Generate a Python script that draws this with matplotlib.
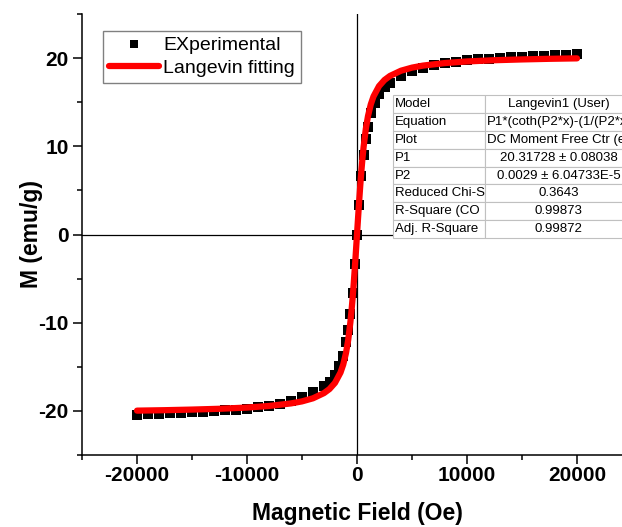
import matplotlib
matplotlib.use("Agg")
import matplotlib.pyplot as plt
from matplotlib.ticker import MultipleLocator

plt.rcParams['font.family'] = ['Liberation Sans', 'DejaVu Sans']
plt.rcParams['axes.unicode_minus'] = False

# experimental M-H points (Oe, emu/g)
field_exp = [-20000, -19000, -18000, -17000, -16000, -15000, -14000, -13000, -12000,
             -11000, -10000, -9000, -8000, -7000, -6000, -5000, -4000, -3000, -2500,
             -2000, -1600, -1300, -1000, -800, -600, -400, -200, 0, 200, 400, 600, 800,
             1000, 1300, 1600, 2000, 2500, 3000, 4000, 5000, 6000, 7000, 8000, 9000,
             10000, 11000, 12000, 13000, 14000, 15000, 16000, 17000, 18000, 19000, 20000]
m_exp = [-20.45, -20.39, -20.34, -20.29, -20.23, -20.17, -20.1, -20.03, -19.95,
         -19.85, -19.75, -19.6, -19.45, -19.2, -18.85, -18.4, -17.9, -17.2, -16.7,
         -15.9, -14.9, -13.8, -12.2, -10.8, -9.0, -6.6, -3.4, 0.0, 3.4, 6.6, 9.0, 10.8,
         12.2, 13.8, 14.9, 15.9, 16.7, 17.2, 18.0, 18.5, 18.9, 19.2, 19.45, 19.6,
         19.75, 19.85, 19.95, 20.03, 20.1, 20.17, 20.23, 20.29, 20.34, 20.39, 20.45]

# Langevin fit curve
field_fit = [-20000, -17500, -15000, -12500, -10000, -8000, -6000, -5000, -4000, -3000,
             -2500, -2000, -1500, -1250, -1000, -800, -600, -500, -400, -300, -200, -100,
             0, 100, 200, 300, 400, 500, 600, 800, 1000, 1250, 1500, 2000, 2500, 3000,
             4000, 5000, 6000, 8000, 10000, 12500, 15000, 17500, 20000]
m_fit = [-19.97, -19.92, -19.85, -19.76, -19.62, -19.44, -19.15, -18.92, -18.57, -17.98,
         -17.52, -16.82, -15.65, -14.74, -13.43, -11.96, -9.93, -8.67, -7.23, -5.62,
         -3.84, -1.95, 0.0, 1.95, 3.84, 5.62, 7.23, 8.67, 9.93, 11.96, 13.43, 14.74,
         15.65, 16.82, 17.52, 17.98, 18.57, 18.92, 19.15, 19.44, 19.62, 19.76, 19.85,
         19.92, 19.97]

table_keys = ["Model", "Equation", "Plot", "P1", "P2", "Reduced Chi-S", "R-Square (CO",
              "Adj. R-Square"]
table_vals = ["Langevin1 (User)", "P1*(coth(P2*x)-(1/(P2*x)))", "DC Moment Free Ctr (emu)",
              "20.31728 \u00b1 0.08038", "0.0029 \u00b1 6.04733E-5", "0.3643", "0.99873",
              "0.99872"]

fig = plt.figure(figsize=(6.22, 5.27), dpi=100)
ax = fig.add_axes([82 / 622, 72 / 527, 550 / 622, 441 / 527])

ax.axhline(0, color="black", lw=0.9, zorder=1)
ax.axvline(0, color="black", lw=0.9, zorder=1)
ax.plot(field_exp, m_exp, "s", color="black", ms=7.5, mew=0, label="EXperimental", zorder=3)
ax.plot(field_fit, m_fit, "-", color="red", lw=4.5, label="Langevin fitting", zorder=4,
        solid_capstyle="round")

ax.set_xlim(-25000, 25000)
ax.set_ylim(-25, 25)
ax.xaxis.set_major_locator(MultipleLocator(10000))
ax.xaxis.set_minor_locator(MultipleLocator(5000))
ax.yaxis.set_major_locator(MultipleLocator(10))
ax.yaxis.set_minor_locator(MultipleLocator(5))
ax.tick_params(which="major", length=6.5, width=1.1, labelsize=15)
ax.tick_params(axis="x", which="major", pad=1.5)
ax.tick_params(axis="y", which="major", pad=3)
ax.tick_params(which="minor", length=3.5, width=1.1)
for lab in ax.get_xticklabels() + ax.get_yticklabels():
    lab.set_fontweight("bold")
for s in ["top", "right"]:
    ax.spines[s].set_visible(False)
for s in ["left", "bottom"]:
    ax.spines[s].set_linewidth(1.1)

ax.set_xlabel("Magnetic Field (Oe)", fontsize=16.5, fontweight="bold", labelpad=12)
ax.set_ylabel("M (emu/g)", fontsize=16.5, fontweight="bold", labelpad=-3)

leg = ax.legend(loc="upper left", bbox_to_anchor=(0.038, 0.9615), borderaxespad=0,
                fontsize=14, handlelength=2.6, handletextpad=0.2, borderpad=0.3,
                labelspacing=0.25, fancybox=False, framealpha=1, markerscale=0.85)
leg.get_frame().set_edgecolor("#808080")
leg.get_frame().set_linewidth(1.0)

tab = ax.table(cellText=[[k, v] for k, v in zip(table_keys, table_vals)],
               bbox=[0.5655, 0.492, 0.4345, 0.324], colWidths=[0.385, 0.615])
tab.auto_set_font_size(False)
tab.set_fontsize(9.5)
tab.set_zorder(5)
for (r, c), cell in tab.get_celld().items():
    cell.set_edgecolor("#c0c0c0")
    cell.set_linewidth(0.8)
    cell.set_facecolor("white")
    if c == 0:
        cell.get_text().set_horizontalalignment("left")
        cell.PAD = 0.02
    elif len(table_vals[r]) > 22:
        cell.get_text().set_horizontalalignment("left")
        cell.PAD = 0.012
    else:
        cell.get_text().set_horizontalalignment("center")

fig.savefig("out.png", dpi=100)
